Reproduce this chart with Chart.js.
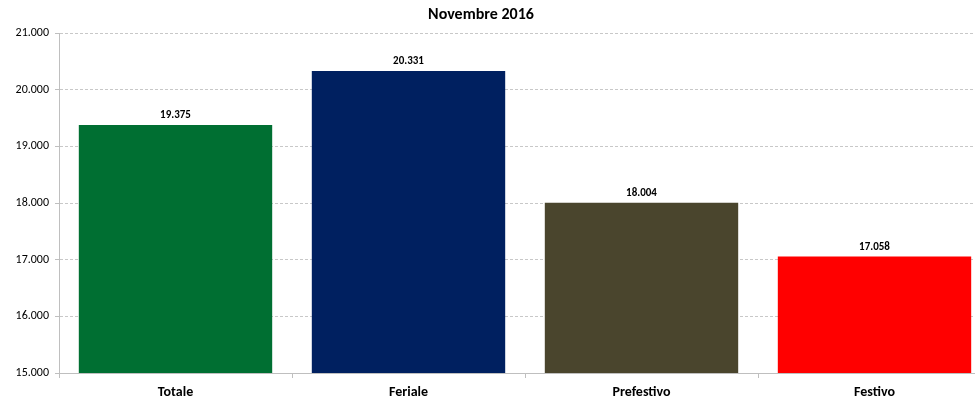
<!DOCTYPE html>
<html><head><meta charset="utf-8">
<script src="https://cdn.jsdelivr.net/npm/chart.js@4/dist/chart.umd.min.js"></script>
<style>html,body{margin:0;padding:0;overflow:hidden;background:#fff;width:975px;height:402px}#wrap{width:991px;height:402px;position:relative}</style>
</head><body><div id="wrap"><canvas id="c"></canvas></div>
<script>
const categories = ["Totale", "Feriale", "Prefestivo", "Festivo"];
const values = [19375, 20331, 18004, 17058];
const barColors = ["#006F32", "#002060", "#4A452D", "#FF0000"];
const yTicks = [15000, 16000, 17000, 18000, 19000, 20000, 21000];
const titleText = "Novembre 2016";

function fmt(v){ return String(v).replace(/\B(?=(\d{3})+(?!\d))/g, "."); }
const FONT = "Carlito, Calibri, Lato, 'Open Sans', 'Liberation Sans', sans-serif";

const labelPlugin = {
  id: 'lbl',
  afterDatasetsDraw(chart){
    const ctx = chart.ctx;
    const meta = chart.getDatasetMeta(0);
    ctx.save();
    ctx.font = "bold 11px " + FONT;
    ctx.fillStyle = "#000";
    ctx.textAlign = "center";
    ctx.textBaseline = "bottom";
    meta.data.forEach((el, i) => {
      ctx.fillText(fmt(values[i]), el.x, el.y - 4);
    });
    ctx.font = "bold 16px " + FONT;
    ctx.textBaseline = "middle";
    ctx.fillText(titleText, 481, 15);
    ctx.restore();
  }
};

new Chart(document.getElementById('c'), {
  type: 'bar',
  data: { labels: categories, datasets: [{ data: values, backgroundColor: barColors, borderWidth: 0, categoryPercentage: 0.83, barPercentage: 1 }] },
  options: {
    responsive: true, maintainAspectRatio: false, animation: false,
    layout: { padding: { top: 33, left: 0, right: 0, bottom: 0 } },
    plugins: { legend: { display: false }, tooltip: { enabled: false }, title: { display: false } },
    scales: {
      x: {
        grid: { drawOnChartArea: false, color: '#BFBFBF', tickLength: 5, offset: true },
        border: { color: '#BFBFBF' },
        ticks: { font: { family: FONT, size: 14, weight: 'bold' }, color: '#000', padding: 6 },
        afterFit(s){ s.height = 29; }
      },
      y: {
        min: 15000, max: 21000,
        afterBuildTicks(s){ s.ticks = yTicks.map(v => ({ value: v })); },
        grid: { color: '#C8C8C8', tickLength: 4, lineWidth: 1, tickColor: '#BFBFBF', tickBorderDash: [] },
        border: { color: '#BFBFBF', dash: [3, 2] },
        ticks: { font: { family: FONT, size: 12 }, color: '#000', padding: 6, callback: v => fmt(v) },
        afterFit(s){ s.width = 59; }
      }
    }
  },
  plugins: [labelPlugin]
});
</script></body></html>
